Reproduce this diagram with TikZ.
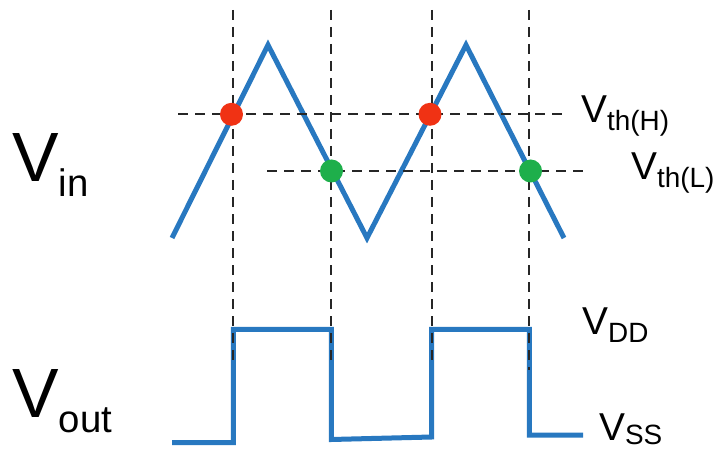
\documentclass[tikz,border=0pt]{standalone}
\usepackage{fontspec}
\setmainfont{Liberation Sans}
\definecolor{wave}{RGB}{40,120,192}
\definecolor{dotred}{RGB}{240,50,20}
\definecolor{dotgreen}{RGB}{30,175,75}
\tikzset{
  wavepath/.style={draw=wave, line width=5bp, line join=miter, line cap=butt},
  guide/.style={draw=black!85, line width=2bp, dash pattern=on 10bp off 7bp},
  hdot/.style={circle, fill=dotred, minimum size=23bp, inner sep=0pt},
  ldot/.style={circle, fill=dotgreen, minimum size=23bp, inner sep=0pt},
  lbl/.style={anchor=base west, inner sep=0pt, text=black},
}
\newcommand{\biglbl}[2]{\fontsize{70}{70}\selectfont V\raisebox{-15bp}{\fontsize{38.5}{38.5}\selectfont #1}}
\newcommand{\smlbl}[2]{\fontsize{39}{39}\selectfont V\raisebox{-#2}{\fontsize{28}{28}\selectfont #1}}
\begin{document}
\begin{tikzpicture}[x=1bp, y=-1bp]
\useasboundingbox (0,0) rectangle (720,450);
% triangle input wave
\draw[wavepath] (172,238) -- (268,45) -- (367,238) -- (466,45) -- (564,238);
% square output wave
\draw[wavepath] (172,442.5) -- (233.3,442.5) -- (233.3,329.3) -- (331.3,329.3) -- (331.3,439.5)
  -- (431.7,437) -- (431.7,329.3) -- (529.3,329.3) -- (529.3,435) -- (583,435);
% guide coordinates
\coordinate (v1t) at (233.3,10);  \coordinate (v1b) at (233.3,362);
\coordinate (v2t) at (331.3,10);  \coordinate (v2b) at (331.3,362);
\coordinate (v3t) at (431.7,10);  \coordinate (v3b) at (431.7,362);
\coordinate (v4t) at (529.3,10);  \coordinate (v4b) at (529.3,370);
\coordinate (hl) at (178,114.3);  \coordinate (hr) at (568,114.3);
\coordinate (ll) at (267,171);    \coordinate (lr) at (586,171);
\draw[guide] (v1t) -- (v1b);
\draw[guide] (v2t) -- (v2b);
\draw[guide] (v3t) -- (v3b);
\draw[guide] (v4t) -- (v4b);
\draw[guide] (hl) -- (hr);
\draw[guide] (ll) -- (lr);
% threshold crossing dots
\node[hdot] (h1) at (231.5,114.3) {};
\node[hdot] (h2) at (430,114.3) {};
\node[ldot] (l1) at (331.5,171) {};
\node[ldot] (l2) at (530.5,171) {};
% labels
\node[lbl] (vin)  at (12,182) {\biglbl{in}{}};
\node[lbl] (vout) at (12,417) {\biglbl{out}{}};
\node[lbl] (vth)  at (581,123) {\smlbl{th(H)}{8bp}};
\node[lbl] (vtl)  at (631,180) {\smlbl{th(L)}{8bp}};
\node[lbl] (vdd)  at (582,335) {\smlbl{DD}{8bp}};
\node[lbl] (vss)  at (599,440) {\smlbl{SS}{4bp}};
\end{tikzpicture}
\end{document}
